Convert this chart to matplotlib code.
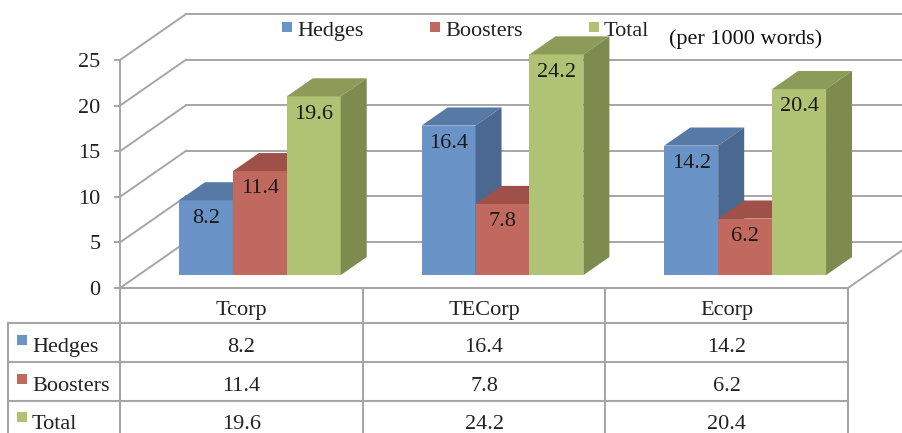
import matplotlib
matplotlib.use("Agg")
import matplotlib.pyplot as plt
from matplotlib.patches import Polygon, Rectangle
import matplotlib.transforms as mtransforms

plt.rcParams['font.family'] = ['Liberation Serif', 'DejaVu Serif']

# data
categories = ['Tcorp', 'TECorp', 'Ecorp']
series = ['Hedges', 'Boosters', 'Total']
hedges = [8.2, 16.4, 14.2]
boosters = [11.4, 7.8, 6.2]
total = [19.6, 24.2, 20.4]
yticks = [0, 5, 10, 15, 20, 25]
values = [hedges, boosters, total]

# colours: front, top, side
colors = {
    'Hedges': ('#6A94C8', '#5679A6', '#4A6890'),
    'Boosters': ('#C2695F', '#9F5149', '#9F5149'),
    'Total': ('#B0C374', '#8C9B58', '#7D8B4E'),
}
grid_c = '#A6A6A6'

fig = plt.figure(figsize=(9.03, 4.33), dpi=100)
ax = fig.add_axes([0, 0, 1, 1])
ax.set_xlim(-0.4945, 3.2266)
ax.set_ylim(-15.9, 31.58)

# oblique depth vector (category units, value units)
Dx, Dy = 0.272, 5.04
f0, t = 0.28, 0.394
w = 2 / 9.0
gap = 1 / 6.0

# walls and floor
for v in yticks:
    ax.plot([0, Dx], [v, v + Dy], color=grid_c, lw=1.4, zorder=1)
    ax.plot([Dx, 3.5], [v + Dy, v + Dy], color=grid_c, lw=1.4, zorder=1)
ax.plot([3, 3 + Dx], [0, Dy], color=grid_c, lw=1.4, zorder=1)

# y axis on the front-left edge
ax.spines['left'].set_position(('data', 0))
ax.spines['left'].set_bounds(0, 25)
ax.spines['left'].set_color(grid_c)
ax.spines['left'].set_linewidth(1.4)
for s in ['top', 'right', 'bottom']:
    ax.spines[s].set_visible(False)
ax.set_yticks(yticks)
ax.set_xticks([])
ax.tick_params(axis='y', length=4, width=1.4, color=grid_c, pad=10,
               labelsize=16, labelcolor='#222222')

# bars
for c in range(len(categories)):
    for i, name in enumerate(series):
        v = values[i][c]
        fc, tc, sc = colors[name]
        x0 = c + gap + i * w + f0 * Dx
        y0 = f0 * Dy
        dx, dy = t * Dx, t * Dy
        z = 3 + c * 3 + i
        ax.add_patch(Rectangle((x0, y0), w, v, facecolor=fc, edgecolor='none', zorder=z))
        ax.add_patch(Polygon([(x0, y0 + v), (x0 + w, y0 + v), (x0 + w + dx, y0 + v + dy),
                              (x0 + dx, y0 + v + dy)], closed=True, facecolor=tc,
                             edgecolor='none', zorder=z))
        ax.add_patch(Polygon([(x0 + w, y0), (x0 + w + dx, y0 + dy), (x0 + w + dx, y0 + v + dy),
                              (x0 + w, y0 + v)], closed=True, facecolor=sc,
                             edgecolor='none', zorder=z))
        ax.text(x0 + w / 2, y0 + v - 1.95, f'{v:.1f}', ha='center', va='center',
                fontsize=16, color='#1a1a1a', zorder=20)

# data table below the floor
tr = mtransforms.blended_transform_factory(ax.transData, ax.transAxes)
row_lines = [0.335, 0.255, 0.165, 0.075]
ax.plot([0, 3], [row_lines[0]] * 2, color=grid_c, lw=1.5, transform=tr, zorder=2)
for yl in row_lines[1:]:
    ax.plot([-0.461, 3], [yl, yl], color=grid_c, lw=1.5, transform=tr)
for xl in [0, 1, 2, 3]:
    ax.plot([xl, xl], [row_lines[0], -0.05], color=grid_c, lw=1.5, transform=tr)
ax.plot([-0.461, -0.461], [row_lines[1], -0.05], color=grid_c, lw=1.5, transform=tr)

for c, cat in enumerate(categories):
    ax.text(c + 0.5, 0.283, cat, ha='center', va='center', fontsize=16,
            color='#222222', transform=tr)
row_y = [0.197, 0.107, 0.019]
for i, name in enumerate(series):
    ax.add_patch(Rectangle((-0.425, row_y[i] + 0.006), 0.042, 0.023,
                           facecolor=colors[name][0], edgecolor='none', transform=tr))
    ax.text(-0.363, row_y[i], name, ha='left', va='center', fontsize=16,
            color='#222222', transform=tr)
    for c in range(len(categories)):
        ax.text(c + 0.5, row_y[i], f'{values[i][c]:.1f}', ha='center', va='center',
                fontsize=16, color='#222222', transform=tr)

# legend on top
leg_x = [282, 430, 589]
for i, name in enumerate(series):
    fig.patches.append(Rectangle((leg_x[i] / 903, 1 - 32 / 433), 10 / 903, 10 / 433,
                                 facecolor=colors[name][0], edgecolor='none',
                                 transform=fig.transFigure, figure=fig))
    fig.text((leg_x[i] + 15) / 903, 1 - 36 / 433, name, ha='left', va='baseline',
             fontsize=16, color='#222222')
fig.text(669 / 903, 1 - 44 / 433, '(per 1000 words)', ha='left', va='baseline',
         fontsize=16, color='#111111')

fig.savefig('out.png', dpi=100)
